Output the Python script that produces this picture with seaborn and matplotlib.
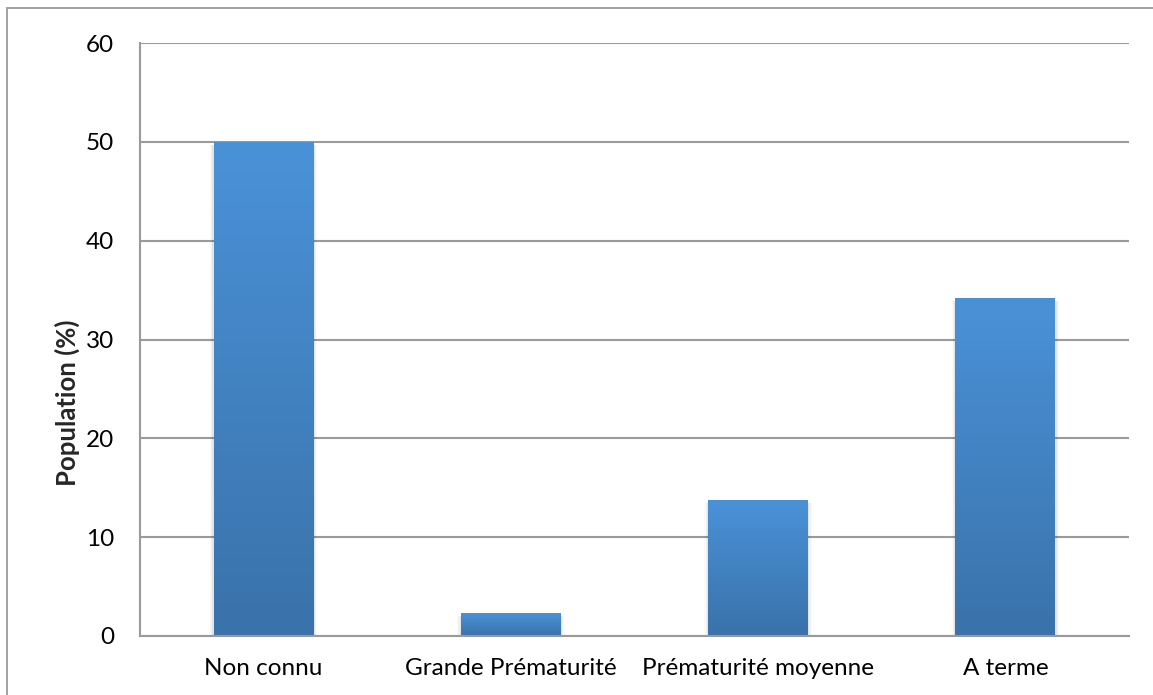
import numpy as np
import pandas as pd
import seaborn as sns
import matplotlib.pyplot as plt
from matplotlib.patches import Rectangle
from matplotlib.colors import LinearSegmentedColormap

categories = ['Non connu', 'Grande Prématurité', 'Prématurité moyenne', 'A terme']
population = [50.0, 2.3, 13.8, 34.2]

df = pd.DataFrame({'cat': categories, 'pop': population})

sns.set_style('white')
plt.rcParams['font.family'] = ['Lato', 'DejaVu Sans']

fig = plt.figure(figsize=(11.53, 6.95), dpi=100)
ax = fig.add_axes([140 / 1153, 1 - 636 / 695, 989 / 1153, 593 / 695])

sns.barplot(data=df, x='cat', y='pop', ax=ax, width=0.404, color='#4a90d6',
            saturation=1, edgecolor='none')

# gradient fill + soft shadow for each bar
grad = LinearSegmentedColormap.from_list('g', ['#3a72aa', '#4a92d8'])
for p in list(ax.patches):
    x0, y0 = p.get_x(), p.get_y()
    w, h = p.get_width(), p.get_height()
    for k, a in enumerate([0.05, 0.035, 0.02]):
        d = 0.005 * (k + 1)
        sh = Rectangle((x0 - d, y0), w + 2 * d, h - 0.3, facecolor='black',
                       alpha=a, edgecolor='none', zorder=1.5)
        ax.add_patch(sh)
    im = ax.imshow(np.linspace(0, 1, 256).reshape(-1, 1), cmap=grad, origin='lower',
                   extent=[x0, x0 + w, y0, y0 + h], aspect='auto', zorder=2)
    im.set_clip_path(p)
    p.set_zorder(2)

ax.set_xlim(-0.5, 3.5)
ax.set_ylim(0, 60)
ax.set_yticks(range(0, 61, 10))
ax.yaxis.grid(True, color='#9a9a9a', linewidth=1.5)
ax.set_axisbelow(True)
for s in ['top', 'right']:
    ax.spines[s].set_visible(False)
for s in ['left', 'bottom']:
    ax.spines[s].set_color('#9a9a9a')
    ax.spines[s].set_linewidth(1.5)
ax.tick_params(axis='both', length=0, labelsize=17.5, colors='black')
ax.tick_params(axis='y', pad=18.5)
ax.tick_params(axis='x', pad=16)
ax.set_xlabel('')
ax.set_ylabel('Population (%)', fontsize=18.5, fontweight='bold', va='center')
ax.yaxis.set_label_coords(-0.0738, 0.393)

# outer chart frame
fig.add_artist(Rectangle((7 / 1153, -0.1), 1.2, 1 - 8 / 695 + 0.1, transform=fig.transFigure,
                         fill=False, edgecolor='#9a9a9a', linewidth=1.3))

fig.savefig('out.png', dpi=100)
